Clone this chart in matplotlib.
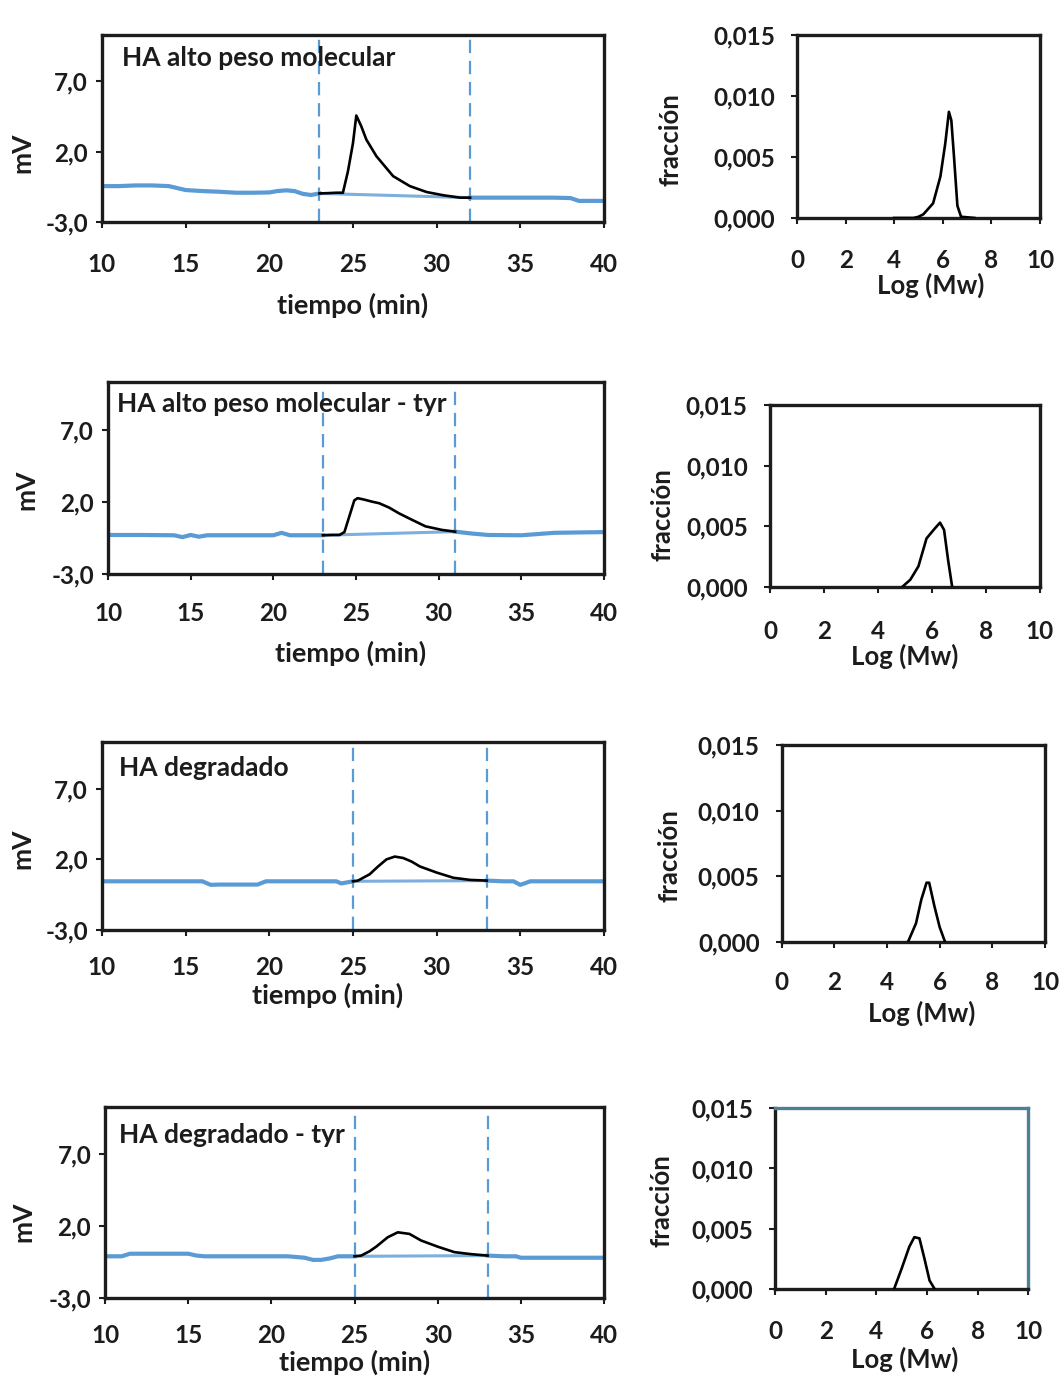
import matplotlib
matplotlib.use("Agg")
import matplotlib.pyplot as plt

# ---- chromatograms: time (min) vs detector signal (mV) ----
titles = ["HA alto peso molecular", "HA alto peso molecular - tyr",
          "HA degradado", "HA degradado - tyr"]

t_hmw = [10, 11, 12, 13, 14, 15, 16, 17, 18, 19, 20, 20.5, 21, 21.5, 22, 22.5,
         23, 23.5, 24, 24.4, 24.7, 25.0, 25.2, 25.5, 25.8, 26.4, 27.4, 28.4,
         29.4, 30.4, 31.4, 32, 33, 34, 35, 36, 37, 38, 38.5, 39, 40]
mv_hmw = [-0.45, -0.45, -0.4, -0.4, -0.45, -0.73, -0.8, -0.85, -0.92, -0.92,
          -0.9, -0.8, -0.75, -0.8, -1.0, -1.08, -0.97, -0.95, -0.92, -0.92,
          0.6, 2.6, 4.57, 3.8, 2.86, 1.68, 0.26, -0.45, -0.87, -1.1, -1.27,
          -1.27, -1.27, -1.27, -1.27, -1.27, -1.27, -1.3, -1.5, -1.5, -1.5]

t_hmw_tyr = [10, 12, 14, 14.5, 15, 15.5, 16, 18, 20, 20.5, 21, 22, 23, 23.5,
             24.0, 24.3, 24.6, 24.9, 25.1, 25.5, 26.0, 26.4, 27.0, 27.6, 28.3,
             29.2, 30.2, 31.0, 32, 33, 35, 37, 40]
mv_hmw_tyr = [-0.3, -0.3, -0.32, -0.45, -0.3, -0.42, -0.32, -0.32, -0.32,
              -0.15, -0.32, -0.32, -0.32, -0.3, -0.3, -0.1, 1.0, 2.1, 2.25,
              2.15, 2.0, 1.9, 1.6, 1.2, 0.8, 0.3, 0.05, -0.07, -0.2, -0.3,
              -0.32, -0.15, -0.1]

t_deg = [10, 12, 14, 16, 16.5, 17, 18, 19, 19.3, 19.8, 22, 24, 24.3, 25, 25.3,
         26.0, 26.5, 27.0, 27.5, 28.0, 28.5, 29.0, 30.0, 31.0, 32.0, 33.0, 34,
         34.6, 35, 35.6, 36, 38, 40]
mv_deg = [0.45, 0.45, 0.45, 0.45, 0.2, 0.22, 0.22, 0.22, 0.22, 0.45, 0.45,
          0.45, 0.3, 0.45, 0.5, 0.95, 1.5, 2.0, 2.2, 2.1, 1.85, 1.5, 1.07, 0.7,
          0.55, 0.5, 0.45, 0.45, 0.2, 0.45, 0.45, 0.45, 0.45]

t_deg_tyr = [10, 11, 11.5, 13, 15, 15.5, 16, 18, 20, 21, 22, 22.5, 23, 23.5,
             24, 25, 25.4, 25.9, 26.3, 27.0, 27.6, 28.3, 29.0, 30.0, 31.0,
             32.0, 33.0, 34, 34.7, 35, 37, 40]
mv_deg_tyr = [-0.1, -0.1, 0.08, 0.08, 0.08, -0.05, -0.1, -0.1, -0.1, -0.1,
              -0.2, -0.35, -0.35, -0.25, -0.1, -0.1, -0.05, 0.25, 0.57, 1.23,
              1.57, 1.46, 1.0, 0.57, 0.19, 0.05, -0.05, -0.1, -0.1, -0.2, -0.2,
              -0.2]

# integration windows (min)
windows = [(23, 32), (23, 31), (25, 33), (25, 33)]

# ---- molecular weight distributions: Log(Mw) vs fraction ----
logmw_hmw = [4.0, 4.8, 5.0, 5.2, 5.6, 5.9, 6.1, 6.25, 6.35, 6.45, 6.6, 6.75, 7.3]
frac_hmw = [0, 0, 0.0001, 0.0003, 0.0012, 0.0034, 0.0061, 0.0087, 0.0080,
            0.0053, 0.0010, 0.0001, 0.0]
logmw_hmw_tyr = [4.9, 5.2, 5.5, 5.8, 6.1, 6.3, 6.45, 6.6, 6.75]
frac_hmw_tyr = [0, 0.0006, 0.0017, 0.0040, 0.0048, 0.0053, 0.0047, 0.0022, 0]
logmw_deg = [4.8, 5.1, 5.3, 5.5, 5.6, 5.8, 6.0, 6.2]
frac_deg = [0, 0.0014, 0.0032, 0.0045, 0.0045, 0.0027, 0.0011, 0]
logmw_deg_tyr = [4.7, 5.0, 5.3, 5.5, 5.7, 5.9, 6.1, 6.3]
frac_deg_tyr = [0, 0.0017, 0.0035, 0.0043, 0.0042, 0.0025, 0.0007, 0]

# ---- axis ticks ----
mv_ticks = [-3, 2, 7]
mv_labels = ["-3,0", "2,0", "7,0"]
time_ticks = [10, 15, 20, 25, 30, 35, 40]
frac_ticks = [0, 0.005, 0.010, 0.015]
frac_labels = ["0,000", "0,005", "0,010", "0,015"]
logmw_ticks = [0, 2, 4, 6, 8, 10]

chrom = [(t_hmw, mv_hmw), (t_hmw_tyr, mv_hmw_tyr),
         (t_deg, mv_deg), (t_deg_tyr, mv_deg_tyr)]
dist = [(logmw_hmw, frac_hmw), (logmw_hmw_tyr, frac_hmw_tyr),
        (logmw_deg, frac_deg), (logmw_deg_tyr, frac_deg_tyr)]

plt.rcParams["font.family"] = ["Lato", "DejaVu Sans"]
BLUE = "#5b9bd5"
INK = "#1c1c1c"

fig = plt.figure(figsize=(10.62, 13.83), dpi=100)

# axes rectangles [left, bottom, width, height] in figure fraction
left_rects = [[0.0960, 0.8395, 0.4727, 0.1352],
              [0.1017, 0.5850, 0.4670, 0.1388],
              [0.0960, 0.3275, 0.4727, 0.1359],
              [0.0989, 0.0615, 0.4699, 0.1381]]
right_rects = [[0.7505, 0.8424, 0.2288, 0.1323],
               [0.7250, 0.5756, 0.2542, 0.1316],
               [0.7361, 0.3191, 0.2479, 0.1422],
               [0.7298, 0.0680, 0.2385, 0.1307]]
title_pos = [(0.04, 0.877), (0.018, 0.885), (0.034, 0.862), (0.028, 0.853)]
mv_label_pos = [(-0.135, 0.37), (-0.14, 0.44), (-0.135, 0.43), (-0.14, 0.40)]
time_label_pos = [(0.50, -0.38), (0.49, -0.35), (0.45, -0.28), (0.50, -0.27)]
time_tick_pad = [18.5, 16.5, 14.5, 14.5]
frac_label_pos = [(-0.47, 0.43), (-0.355, 0.40), (-0.38, 0.44), (-0.40, 0.49)]
logmw_label_pos = [(0.55, -0.30), (0.50, -0.31), (0.53, -0.30), (0.51, -0.32)]
logmw_tick_pad = [18.5, 19.5, 17, 18]


def style_axes(ax):
    for sp in ax.spines.values():
        sp.set_linewidth(2.4)
        sp.set_color(INK)
    ax.tick_params(direction="out", length=4, width=1.5, color=INK,
                   labelsize=17.5, labelcolor=INK)
    for lab in ax.get_xticklabels() + ax.get_yticklabels():
        lab.set_fontweight("bold")


for i in range(4):
    # chromatogram
    ax = fig.add_axes(left_rects[i])
    t, mv = chrom[i]
    t0, t1 = windows[i]
    i0 = t.index(t0)
    i1 = t.index(t1)
    ax.plot(t[:i0 + 1], mv[:i0 + 1], color=BLUE, lw=3.0, zorder=2)
    ax.plot(t[i1:], mv[i1:], color=BLUE, lw=3.0, zorder=2)
    ax.plot([t[i0], t[i1]], [mv[i0], mv[i1]], color=BLUE, lw=2.2, alpha=0.8,
            zorder=2)
    ax.plot(t[i0:i1 + 1], mv[i0:i1 + 1], color="black", lw=1.9, zorder=3)
    for x in windows[i]:
        ax.axvline(x, color=BLUE, lw=1.6, ls=(0, (6, 3.5)), zorder=1)
    ax.set_xlim(10, 40)
    ax.set_ylim(-3, 10.3)
    ax.set_xticks(time_ticks)
    ax.set_yticks(mv_ticks)
    ax.set_yticklabels(mv_labels)
    style_axes(ax)
    ax.tick_params(axis="x", pad=time_tick_pad[i])
    ax.tick_params(axis="y", pad=6)
    ax.set_ylabel("mV", fontsize=19, fontweight="bold", color=INK)
    ax.yaxis.set_label_coords(*mv_label_pos[i])
    ax.set_xlabel("tiempo (min)", fontsize=19.5, fontweight="bold", color=INK)
    ax.xaxis.set_label_coords(*time_label_pos[i])
    ax.text(title_pos[i][0], title_pos[i][1], titles[i], transform=ax.transAxes,
            fontsize=19, fontweight="bold", color=INK, va="center", ha="left")

    # molecular weight distribution
    ax2 = fig.add_axes(right_rects[i])
    m, f = dist[i]
    ax2.plot(m, f, color="black", lw=1.9, zorder=3)
    ax2.set_xlim(0, 10)
    ax2.set_ylim(0, 0.015)
    ax2.set_xticks(logmw_ticks)
    ax2.set_yticks(frac_ticks)
    ax2.set_yticklabels(frac_labels)
    style_axes(ax2)
    ax2.tick_params(axis="x", pad=logmw_tick_pad[i])
    ax2.tick_params(axis="y", pad=12)
    if i == 3:
        ax2.spines["top"].set_color("#4d8096")
        ax2.spines["right"].set_color("#4d8096")
    ax2.set_ylabel("fracción", fontsize=18.5, fontweight="bold", color=INK)
    ax2.yaxis.set_label_coords(*frac_label_pos[i])
    ax2.set_xlabel("Log (Mw)", fontsize=18.5, fontweight="bold", color=INK)
    ax2.xaxis.set_label_coords(*logmw_label_pos[i])

fig.savefig("out.png", dpi=100)
